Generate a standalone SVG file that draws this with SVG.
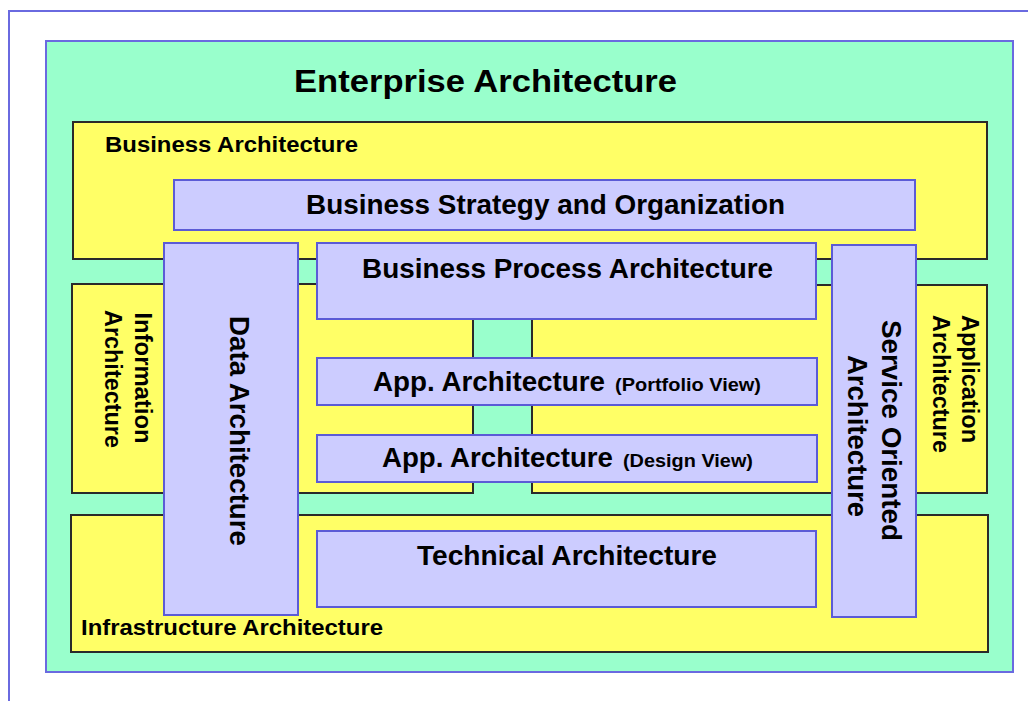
<svg xmlns="http://www.w3.org/2000/svg" width="1028" height="701" viewBox="0 0 1028 701">
  <style>
    .frame { fill: none; stroke: #6a6ae0; stroke-width: 2; }
    .ea { fill: #99ffcc; stroke: #6a6ae0; stroke-width: 2; }
    .domain { fill: #ffff66; stroke: #2a2a2a; stroke-width: 2; }
    .view { fill: #ccccff; stroke: #5b5bd6; stroke-width: 2; }
    text { font-family: "Liberation Sans", Arial, sans-serif; font-weight: bold; fill: #000; }
    .title { font-size: 32px; }
    .dlabel { font-size: 21.5px; }
    .vlabel { font-size: 27px; }
    .small { font-size: 18px; }
    .side { font-size: 24px; }
    .tall { font-size: 28px; }
  </style>

  <!-- page frame -->
  <path class="frame" d="M9,701 V11 H1028"/>

  <g id="enterprise-architecture">
    <rect class="ea" x="46" y="41" width="967" height="631"/>
    <text class="title" x="294" y="92" textLength="383" lengthAdjust="spacingAndGlyphs">Enterprise Architecture</text>
  </g>

  <!-- architecture domains -->
  <g id="business-architecture">
    <rect class="domain" x="73" y="122" width="914" height="137"/>
    <text class="dlabel" x="105" y="152" textLength="253" lengthAdjust="spacingAndGlyphs">Business Architecture</text>
  </g>

  <g id="information-architecture">
    <rect class="domain" x="72" y="284" width="401" height="209"/>
    <text class="side" text-anchor="middle" transform="translate(135,378) rotate(90)" textLength="131" lengthAdjust="spacingAndGlyphs">Information</text>
    <text class="side" text-anchor="middle" transform="translate(105,379) rotate(90)" textLength="138" lengthAdjust="spacingAndGlyphs">Architecture</text>
  </g>

  <g id="application-architecture">
    <rect class="domain" x="532" y="285" width="455" height="208"/>
    <text class="side" transform="translate(962,315) rotate(90)" textLength="128" lengthAdjust="spacingAndGlyphs">Application</text>
    <text class="side" transform="translate(933,315) rotate(90)" textLength="138" lengthAdjust="spacingAndGlyphs">Architecture</text>
  </g>

  <g id="infrastructure-architecture">
    <rect class="domain" x="71" y="515" width="917" height="137"/>
    <text class="dlabel" x="81" y="635" textLength="302" lengthAdjust="spacingAndGlyphs">Infrastructure Architecture</text>
  </g>

  <!-- views -->
  <g id="business-strategy">
    <rect class="view" x="174" y="180" width="741" height="50"/>
    <text class="vlabel" x="306" y="214" textLength="479" lengthAdjust="spacingAndGlyphs">Business Strategy and Organization</text>
  </g>

  <g id="data-architecture">
    <rect class="view" x="164" y="243" width="134" height="372"/>
    <text class="tall" text-anchor="middle" transform="translate(230,431) rotate(90)" textLength="230" lengthAdjust="spacingAndGlyphs">Data Architecture</text>
  </g>

  <g id="business-process-architecture">
    <rect class="view" x="317" y="243" width="499" height="76"/>
    <text class="vlabel" x="362" y="278" textLength="411" lengthAdjust="spacingAndGlyphs">Business Process Architecture</text>
  </g>

  <g id="service-oriented-architecture">
    <rect class="view" x="832" y="245" width="84" height="372"/>
    <text class="tall" text-anchor="middle" transform="translate(882,430.5) rotate(90)" textLength="221" lengthAdjust="spacingAndGlyphs">Service Oriented</text>
    <text class="tall" text-anchor="middle" transform="translate(848,436) rotate(90)" textLength="162" lengthAdjust="spacingAndGlyphs">Architecture</text>
  </g>

  <g id="app-architecture-portfolio">
    <rect class="view" x="317" y="358" width="500" height="47"/>
    <text class="vlabel" x="373" y="391" textLength="232" lengthAdjust="spacingAndGlyphs">App. Architecture</text>
    <text class="small" x="615" y="391" textLength="146" lengthAdjust="spacingAndGlyphs">(Portfolio View)</text>
  </g>

  <g id="app-architecture-design">
    <rect class="view" x="317" y="435" width="500" height="47"/>
    <text class="vlabel" x="382" y="467" textLength="231" lengthAdjust="spacingAndGlyphs">App. Architecture</text>
    <text class="small" x="623" y="467" textLength="130" lengthAdjust="spacingAndGlyphs">(Design View)</text>
  </g>

  <g id="technical-architecture">
    <rect class="view" x="317" y="531" width="499" height="76"/>
    <text class="vlabel" x="417" y="565" textLength="300" lengthAdjust="spacingAndGlyphs">Technical Architecture</text>
  </g>

  <!-- no connectors: the diagram is made of nested, overlapping areas -->
  <g id="connectors"/>
</svg>
